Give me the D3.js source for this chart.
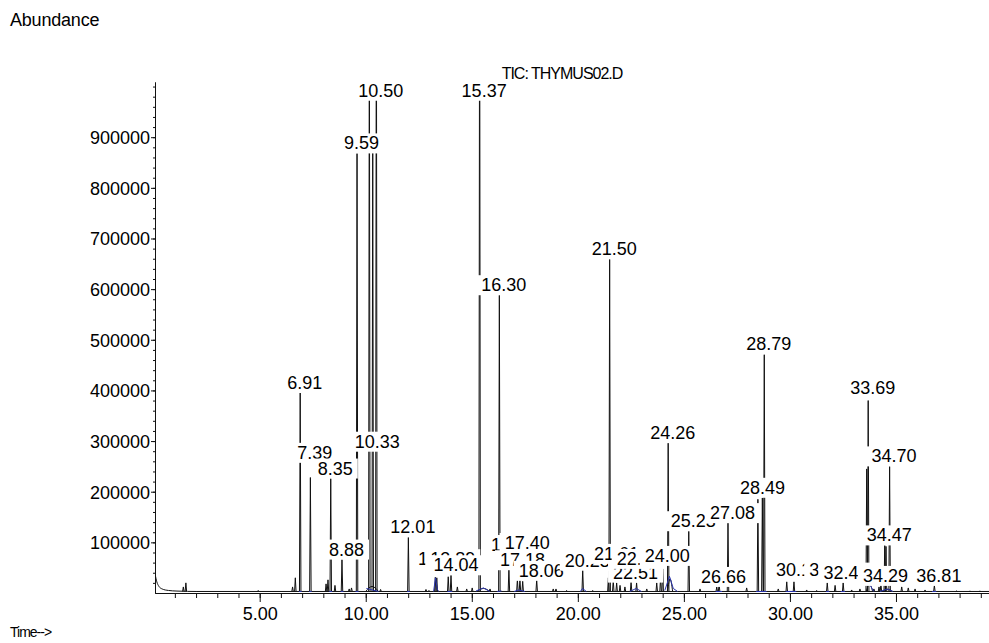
<!DOCTYPE html>
<html>
<head>
<meta charset="utf-8">
<script src="https://cdn.jsdelivr.net/npm/d3@7"></script>
<style>
  body { margin: 0; background: #fff; }
  svg text { font-family: "Liberation Sans", Arial, sans-serif; fill: #000; }
</style>
</head>
<body>
<svg id="chart" width="989" height="643"></svg>
<script>
// TIC chromatogram, THYMUS02.D
var baseLevel = 3000;

// solvent tail at the very start [time, abundance]
var solventTail = [[0.064, 38000], [0.15, 22000], [0.25, 13000], [0.4, 8000],
    [0.7, 5000], [1.1, 3800], [1.6, 3200], [2.0, 3000]];

// peaks [retention time, abundance]
var peaks = [
    [1.40, 12000], [1.52, 20000], [4.93, 5000], [6.55, 12000], [6.68, 30000],
    [6.91, 395000], [7.39, 228000], [8.13, 18000], [8.22, 26000], [8.35, 226000],
    [8.55, 15000], [8.88, 66000], [9.22, 8000], [9.33, 10000], [9.59, 868000],
    [10.17, 1200000], [10.33, 900000], [10.50, 1300000], [10.70, 7000], [12.01, 110000],
    [12.84, 7000], [12.98, 5000], [13.28, 31000], [13.35, 30000], [13.89, 32000],
    [14.02, 35000], [14.32, 12000], [14.76, 8000], [15.02, 10000], [15.37, 1300000],
    [15.86, 8000], [16.30, 588000], [16.75, 47000], [17.15, 27000], [17.27, 27000],
    [17.40, 23000], [18.06, 26000], [18.84, 8000], [18.97, 8000], [19.47, 5000],
    [20.23, 47000], [20.70, 5000], [21.44, 30000], [21.50, 659000], [21.67, 25000],
    [21.83, 20000], [21.99, 15000], [22.22, 12000], [22.51, 22000], [22.77, 20000],
    [23.25, 8000], [23.72, 20000], [23.90, 30000], [24.00, 55000], [24.26, 296000],
    [25.23, 122000], [25.76, 8000], [26.55, 12000], [26.66, 18000], [27.08, 138000],
    [27.96, 10000], [28.49, 185000], [28.70, 188000], [28.79, 471000], [29.45, 8000],
    [29.85, 22000], [30.19, 22000], [30.79, 6000], [31.26, 5000], [31.76, 20000],
    [32.13, 15000], [32.51, 20000], [32.91, 6000], [33.30, 8000], [33.62, 245000],
    [33.69, 380000], [33.96, 8000], [34.20, 12000], [34.29, 17000], [34.47, 94000],
    [34.53, 92000], [34.70, 250000], [35.27, 12000], [35.58, 10000], [35.90, 8000],
    [36.37, 6000], [36.81, 15000], [37.86, 4000], [38.49, 4000], [38.96, 4000]
];

// broad humps [time, abundance, half width in min]
var humps = [[10.3, 13000, 0.3], [15.55, 9000, 0.3], [24.35, 28000, 0.12],
    [33.75, 18000, 0.15], [34.6, 7000, 0.25]];

// integration baselines drawn in blue
var blueLines = [
    [[6.85, 3000], [6.98, 3000]], [[7.33, 3000], [7.45, 3000]], [[8.28, 3000], [8.42, 3000]],
    [[8.82, 3000], [8.95, 3000]], [[9.52, 3000], [9.66, 3000]], [[10.03, 9000], [10.6, 3000]],
    [[11.95, 3000], [12.07, 3000]], [[13.2, 3000], [13.29, 30000], [13.38, 6000], [13.46, 3000]],
    [[13.85, 3000], [14.08, 3000]], [[15.2, 4000], [15.55, 10000], [15.85, 3000]],
    [[16.2, 3000], [16.4, 4000]], [[17.0, 3000], [17.2, 6000], [17.5, 3000]],
    [[20.12, 3000], [20.22, 9000], [20.4, 3000]], [[22.45, 3000], [22.75, 9000], [23.0, 3000]],
    [[24.1, 5000], [24.32, 33000], [24.5, 9000], [24.7, 3000]], [[26.5, 3000], [26.8, 3000]],
    [[28.4, 3000], [28.9, 3000]], [[29.8, 3000], [30.3, 3000]], [[31.7, 3000], [31.85, 3000]],
    [[32.4, 3000], [32.6, 3000]], [[33.72, 20000], [33.95, 3000]],
    [[34.25, 3000], [34.6, 8000], [34.85, 3000]], [[36.7, 3000], [36.9, 3000]]
];

// peak labels [text, abundance the label sits on]
var labels = [
    ["6.91", 395000], ["7.39", 257000], ["8.35", 226000], ["8.88", 66000], ["9.59", 868000],
    ["10.33", 279000], ["10.50", 972000], ["12.01", 110000], ["13.31", 47000], ["13.89", 47000],
    ["14.04", 35000], ["15.37", 972000], ["16.30", 588000], ["16.75", 75000], ["17.18", 45000],
    ["17.40", 79000], ["18.06", 24000], ["20.23", 44000], ["21.50", 659000], ["21.61", 57500],
    ["22.51", 20500], ["22.68", 47600], ["24.00", 53500], ["24.26", 296000], ["25.23", 122000],
    ["26.66", 12000], ["27.08", 138000], ["28.49", 188000], ["28.79", 471000], ["30.19", 26000],
    ["31.76", 26000], ["32.43", 20500], ["33.69", 385000], ["34.29", 14000], ["34.47", 94000],
    ["34.70", 250000], ["36.81", 14000]
];

var xMajor = [5, 10, 15, 20, 25, 30, 35];
var yMajor = [100000, 200000, 300000, 400000, 500000, 600000, 700000, 800000, 900000];

var svg = d3.select("#chart");
var x = d3.scaleLinear().domain([0.064, 39.4]).range([155, 989.3]);
var y = d3.scaleLinear().domain([0, 1009000]).range([593, 82]);
var spike = 0.035;

// clip so off-scale peaks stop at the top of the axis
svg.append("clipPath").attr("id", "plot")
    .append("rect").attr("x", 155).attr("y", 82).attr("width", 840).attr("height", 512);

var plot = svg.append("g").attr("clip-path", "url(#plot)");

var line = d3.line().x(function (d) { return x(d[0]) }).y(function (d) { return y(d[1]) });
var smooth = d3.line().curve(d3.curveMonotoneX)
    .x(function (d) { return x(d[0]) }).y(function (d) { return y(d[1]) });

// baseline with solvent tail
plot.append("path")
    .attr("d", smooth(solventTail.concat([[39.4, baseLevel]])))
    .attr("fill", "none").attr("stroke", "#111").attr("stroke-width", 1);

// humps
plot.selectAll(".hump").data(humps).enter().append("path")
    .attr("class", "hump")
    .attr("d", function (d) {
        return smooth([[d[0] - d[2], baseLevel], [d[0], d[1]], [d[0] + d[2], baseLevel]]);
    })
    .attr("fill", "none").attr("stroke", "#111").attr("stroke-width", 1);

// spikes
plot.selectAll(".peak").data(peaks).enter().append("path")
    .attr("class", "peak")
    .attr("d", function (d) {
        return line([[d[0] - spike, baseLevel], [d[0], d[1]], [d[0] + spike, baseLevel]]);
    })
    .attr("fill", "none").attr("stroke", "#111").attr("stroke-width", 1);

// blue integration baselines
plot.selectAll(".base").data(blueLines).enter().append("path")
    .attr("class", "base")
    .attr("d", line)
    .attr("fill", "none").attr("stroke", "#2a34b0").attr("stroke-width", 1);

// axes
svg.append("g").attr("transform", "translate(155,0)")
    .call(d3.axisLeft(y).tickValues(d3.range(20000, 1009000, 20000)).tickSize(2).tickSizeOuter(0).tickFormat(""));
var yAxis = svg.append("g").attr("transform", "translate(155,0)")
    .call(d3.axisLeft(y).tickValues(yMajor).tickSize(4).tickSizeOuter(0).tickPadding(1)
        .tickFormat(function (d) { return d }));
svg.append("g").attr("transform", "translate(0,593)")
    .call(d3.axisBottom(x).tickValues(d3.range(1, 40, 1)).tickSize(5).tickSizeOuter(0).tickFormat(""));
var xAxis = svg.append("g").attr("transform", "translate(0,593)")
    .call(d3.axisBottom(x).tickValues(xMajor).tickSize(9).tickSizeOuter(0)
        .tickFormat(d3.format(".2f")));

svg.selectAll(".domain, .tick line").attr("stroke", "#111");
yAxis.selectAll("text").style("font-size", "18px").attr("dy", "0.36em");
xAxis.selectAll("text").style("font-size", "18px").attr("y", 14).attr("dy", "0.74em");

// peak labels, each on a white box drawn in order so later ones cover earlier
labels.forEach(function (d) {
    var g = svg.append("g");
    var box = g.append("rect").attr("fill", "#fff");
    var t = g.append("text")
        .attr("x", x(parseFloat(d[0])) + 4.5)
        .attr("y", y(d[1]) - 4)
        .attr("text-anchor", "middle")
        .style("font-size", "18px")
        .text(d[0]);
    var b = t.node().getBBox();
    box.attr("x", b.x - 5).attr("y", b.y).attr("width", b.width + 10).attr("height", b.height);
});

// texts
svg.append("text").attr("x", 10).attr("y", 26).style("font-size", "18px")
    .style("letter-spacing", "-0.2px").text("Abundance");
svg.append("text").attr("x", 562).attr("y", 79).attr("text-anchor", "middle")
    .style("font-size", "16px").style("letter-spacing", "-1px").text("TIC: THYMUS02.D");
svg.append("text").attr("x", 10).attr("y", 637).style("font-size", "14px")
    .style("letter-spacing", "-1px").text("Time-->");
</script>
</body>
</html>
